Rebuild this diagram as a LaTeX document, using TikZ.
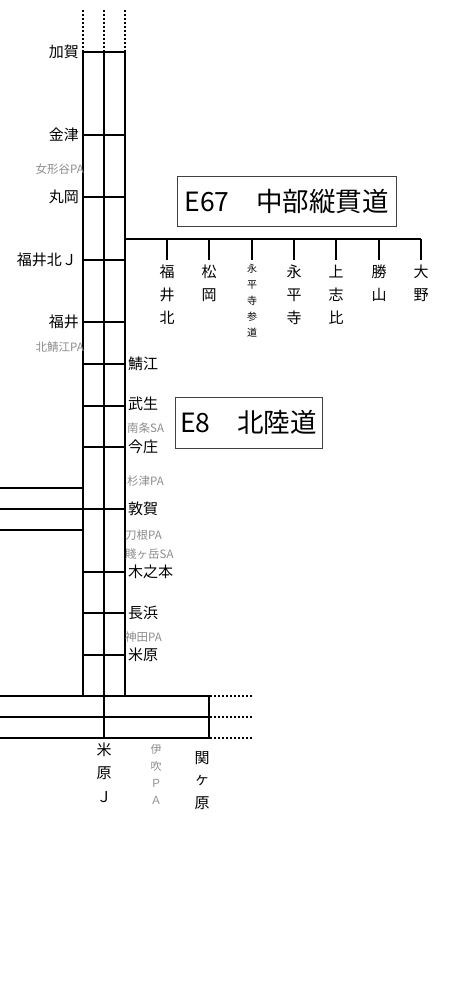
\documentclass[tikz,border=0pt]{standalone}
\usepackage{fontspec}
\setmainfont{Noto Sans CJK JP}
\definecolor{pagray}{HTML}{8C8C8C}
\newcommand\vtext[5]{% style, x, y0, step, list
  \foreach \ch [count=\i from 0] in {#5} {\node[#1] at (#2, #3+\i*#4) {\ch};}}
\begin{document}
\begin{tikzpicture}[x=1pt,y=-1pt,
  road/.style={line width=2pt},
  dotroad/.style={line width=2pt, dash pattern=on 2pt off 2pt},
  lab/.style={font=\fontsize{15}{17}\selectfont, inner sep=0pt},
  palab/.style={font=\fontsize{11.5}{13}\selectfont, text=pagray, inner sep=0pt},
  vlab/.style={font=\fontsize{15}{17}\selectfont, inner sep=0pt},
  vsmall/.style={font=\fontsize{10}{12}\selectfont, inner sep=0pt},
  vpa/.style={font=\fontsize{11}{13}\selectfont, text=pagray, inner sep=0pt},
  title/.style={draw=black!75, line width=1pt, font=\fontsize{26.5}{30}\selectfont, inner sep=0pt}]
\useasboundingbox (0,0) rectangle (450,985);

% coordinates of the three main carriageway lines
\coordinate (Ltop) at (83,52);  \coordinate (Lbot) at (83,696);
\coordinate (Mtop) at (104,52); \coordinate (Mbot) at (104,738);
\coordinate (Rtop) at (125,52); \coordinate (Rbot) at (125,696);
\coordinate (Ldot) at (83,10);  \coordinate (Mdot) at (104,10); \coordinate (Rdot) at (125,10);

% dotted continuation to the north
\draw[dotroad] (Ldot) -- (Ltop);
\draw[dotroad] (Mdot) -- (Mtop);
\draw[dotroad] (Rdot) -- (Rtop);

% main verticals
\draw[road] (Ltop) -- (Lbot);
\draw[road] (Mtop) -- (Mbot);
\draw[road] (Rtop) -- (Rbot);

% interchanges across
\foreach \yy in {52,135,197,260,322,364,406,447,572,613,655}
  \draw[road] (83,\yy) -- (125,\yy);
\draw[road] (0,509) -- (125,509);
\draw[road] (0,488) -- (83,488);
\draw[road] (0,530) -- (83,530);

% south end
\coordinate (S1) at (212,696); \coordinate (S2) at (212,717); \coordinate (S3) at (212,738);
\draw[road] (0,696) -- (S1);
\draw[road] (0,717) -- (S2);
\draw[road] (0,738) -- (S3);
\draw[road] (209,696) -- (209,738);
\foreach \yy in {696,717,738}
  \draw[dotroad] (214,\yy) -- (252,\yy);

% E67 branch
\coordinate (B0) at (125,239); \coordinate (B1) at (421,239);
\draw[road] (B0) -- (B1);
\foreach \xx in {167,209,252,294,336,379,421}
  \draw[road] (\xx,239) -- (\xx,260);

% title boxes
\node[title, minimum width=219pt, minimum height=50pt] (e67) at (286.5,201) {E67　中部縦貫道};
\node[title, minimum width=147pt, minimum height=51pt] (e8) at (248.5,422.5) {E8　北陸道};

% left labels
\node[lab, anchor=east] (kaga) at (79,52) {加賀};
\node[lab, anchor=east] (kanazu) at (79,135) {金津};
\node[lab, anchor=east] (maruoka) at (79,197) {丸岡};
\node[lab, anchor=east] (fkj) at (77,260) {福井北Ｊ};
\node[lab, anchor=east] (fukui) at (79,322) {福井};
\node[palab, anchor=east] (onatani) at (84,169) {女形谷PA};
\node[palab, anchor=east] (kitasabae) at (84,347) {北鯖江PA};

% right labels
\node[lab, anchor=west] (sabae) at (128,364) {鯖江};
\node[lab, anchor=west] (takefu) at (128,404) {武生};
\node[lab, anchor=west] (imajo) at (128,447) {今庄};
\node[lab, anchor=west] (tsuruga) at (128,509) {敦賀};
\node[lab, anchor=west] (kinomoto) at (128,572) {木之本};
\node[lab, anchor=west] (nagahama) at (128,613) {長浜};
\node[lab, anchor=west] (maibara) at (128,655) {米原};
\node[palab, anchor=west] (nanjo) at (127,428) {南条SA};
\node[palab, anchor=west] (sugitsu) at (127,481) {杉津PA};
\node[palab, anchor=west] (tone) at (125,535) {刀根PA};
\node[palab, anchor=west] (shizu) at (125,554) {賤ヶ岳SA};
\node[palab, anchor=west] (kanda) at (125,637) {神田PA};

% E67 vertical labels
\vtext{vlab}{167}{272}{23}{福,井,北}
\vtext{vlab}{209}{272}{23}{松,岡}
\vtext{vsmall}{252}{269}{16}{永,平,寺,参,道}
\vtext{vlab}{294}{272}{23}{永,平,寺}
\vtext{vlab}{336}{272}{23}{上,志,比}
\vtext{vlab}{379}{272}{23}{勝,山}
\vtext{vlab}{421}{272}{23}{大,野}

% bottom vertical labels
\vtext{vlab}{104}{750}{23.5}{米,原,Ｊ}
\vtext{vpa}{156}{749}{17.3}{伊,吹,Ｐ,Ａ}
\vtext{vlab}{202}{758}{22.5}{関,ヶ,原}
\end{tikzpicture}
\end{document}
